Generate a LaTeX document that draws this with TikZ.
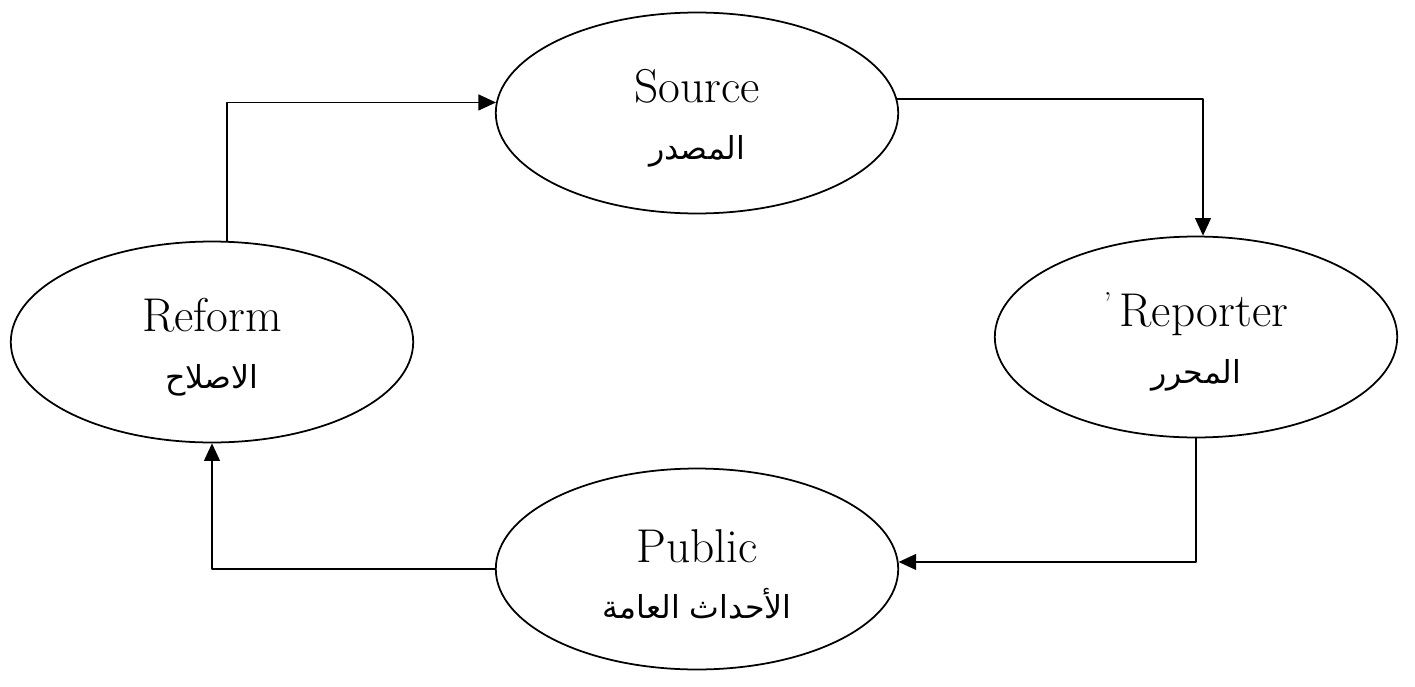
\documentclass[tikz,border=0pt]{standalone}
\usepackage{fontspec}
\usetikzlibrary{arrows,arrows.meta}
\usetikzlibrary{positioning}
\usetikzlibrary{shapes.geometric}
\TeXXeTstate=1
\newfontfamily\arabicfont[Script=Arabic]{DejaVu Sans}
\newcommand{\ar}[1]{{\arabicfont\fontsize{18}{30}\selectfont\beginR #1\endR}}
\newcommand{\en}[1]{\rule{0pt}{25pt}#1}
\begin{document}
\begin{tikzpicture}[line cap=round,line join=round,>={Triangle[length=10pt,width=9pt]},x=0.02cm,y=-0.02cm,
  stage/.style={ellipse,draw,line width=1pt,minimum width=8.05cm,minimum height=4.02cm,
    align=center,inner sep=0pt,font=\fontsize{27}{36}\selectfont},
  flow/.style={->,line width=1pt}]
\useasboundingbox (0,0) rectangle (1415,686);
\node[stage] (source) at (697,113) {\en{Source}\\[-4pt]\ar{المصدر}};
\node[stage] (reporter) at (1196,337) {\en{\raisebox{7pt}{\fontsize{18}{18}\selectfont'}\,Reporter}\\[-4pt]\ar{المحرر}};
\node[stage] (public) at (697,569) {\en{Public}\\[-4pt]\ar{الأحداث العامة}};
\node[stage] (reform) at (212,342) {\en{Reform}\\[-4pt]\ar{الاصلاح}};
\draw[flow] ([xshift=0.3cm]reform.north) |- (source.177);
\draw[flow] (source.4) -| ([xshift=0.14cm]reporter.north);
\draw[flow] (reporter.south) |- (public.2);
\draw[flow] (public.west) -| (reform.south);
\end{tikzpicture}
\end{document}
